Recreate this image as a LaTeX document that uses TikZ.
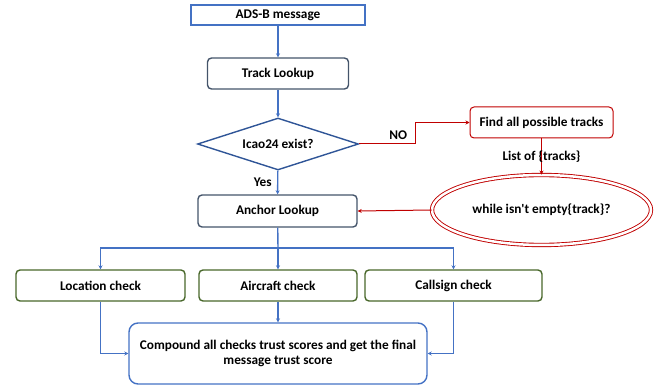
\documentclass[tikz,border=0pt]{standalone}
\usepackage{fontspec}
\setmainfont{Carlito}
\usetikzlibrary{shapes.geometric,arrows.meta}

\definecolor{flowblue}{HTML}{4472C4}
\definecolor{darkblue}{HTML}{2F5597}
\definecolor{slate}{HTML}{44546A}
\definecolor{checkgreen}{HTML}{48672A}
\definecolor{loopred}{HTML}{C00000}

\tikzset{
    box/.style = {draw=slate, line width=1.4pt, rounded corners=4pt, inner sep=0pt,
                  minimum height=31pt, font=\fontsize{13.3}{15.5}\selectfont\bfseries},
    checkbox/.style = {box, draw=checkgreen},
    redbox/.style = {box, draw=loopred, line width=1pt},
    flow/.style = {draw=flowblue, line width=1.4pt, -{Stealth[length=4pt,width=4pt]}},
    redflow/.style = {draw=loopred, line width=1pt, -{Stealth[length=4pt,width=4pt]}},
    lbl/.style = {font=\fontsize{13.3}{15.5}\selectfont\bfseries}
}

\begin{document}
\begin{tikzpicture}[x = 1pt, y = -1pt]
    \useasboundingbox (0,0) rectangle (672,390);
    % main column
    \node[box, draw=flowblue, rounded corners=0pt, minimum width=174pt, minimum height=20pt] (adsb) at (278,15) {ADS-B message};
    \node[box, minimum width=141pt] (track) at (278,73.5) {Track Lookup};
    \node[draw=darkblue, line width=1.4pt, diamond, aspect=3, inner sep=0pt, minimum width=161pt, minimum height=52pt, lbl] (icao) at (278,144) {Icao24 exist?};
    \node[box, minimum width=159pt, minimum height=32pt] (anchor) at (277.5,211) {Anchor Lookup};
    % side loop
    \node[redbox, minimum width=143pt] (find) at (541.5,122.5) {Find all possible tracks};
    \node[ellipse, draw=loopred, line width=0.9pt, double=white, double distance=2.5pt, minimum width=219pt, minimum height=70pt, lbl] (while) at (541.5,210) {while isn\textquotesingle t empty\{track\}?};
    % checks
    \node[checkbox, minimum width=169pt] (location) at (100.5,285.5) {Location check};
    \node[checkbox, minimum width=158pt] (aircraft) at (278,285.5) {Aircraft check};
    \node[checkbox, minimum width=177pt] (callsign) at (453.5,285.5) {Callsign check};
    \node[box, draw=flowblue, rounded corners=9pt, minimum width=298pt, minimum height=61pt, align=center] (compound) at (278,353.5) {Compound all checks trust scores and get the final\\message trust score};
    \coordinate (split) at (278,248);

    \draw[flow] (adsb) -- (track);
    \draw[flow] (track) -- (icao);
    \draw[flow] (icao) -- node[lbl, left, xshift=-2pt] {Yes} (anchor);
    \draw[redflow] (icao.east) -- (415,144) node[lbl, black, above left, xshift=-4pt, yshift=1pt] {NO} |- (find.west);
    \draw[redflow] (find) -- node[lbl] {List of \{tracks\}} (while);
    \draw[redflow] (while.west) -- (anchor.east);
    \draw[flow, -] (anchor) -- (split);
    \draw[flow] (split) -| (location);
    \draw[flow] (split) -- (aircraft);
    \draw[flow] (split) -| (callsign);
    \draw[flow] (location) |- (compound.west);
    \draw[flow] (aircraft) -- (compound);
    \draw[flow] (callsign) |- (compound.east);
\end{tikzpicture}
\end{document}
